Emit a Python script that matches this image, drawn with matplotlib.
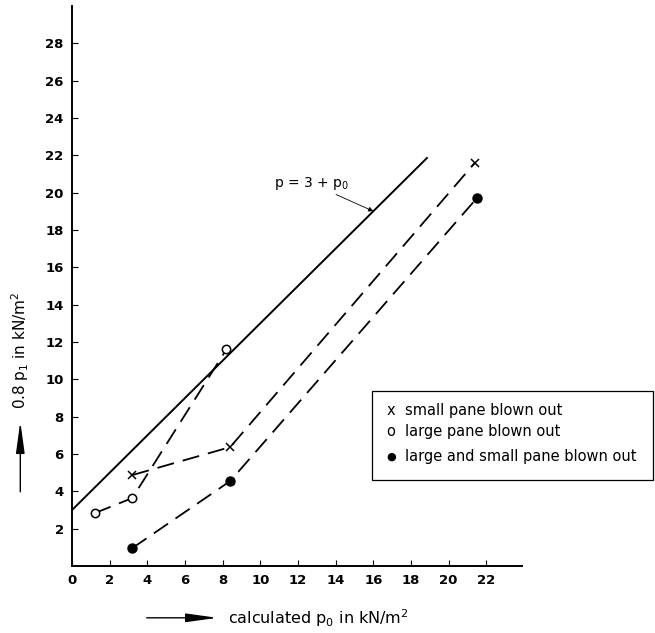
import matplotlib.pyplot as plt
from matplotlib.patches import Rectangle

small_x = [3.2, 8.4, 21.4]
small_y = [4.87, 6.37, 21.6]
large_x = [1.2, 3.2, 8.2]
large_y = [2.83, 3.64, 11.6]
both_x = [3.2, 8.4, 21.5]
both_y = [0.96, 4.55, 19.7]
ref_x = [0, 18.85]
ref_y = [3 + v for v in ref_x]

x_ticks = list(range(0, 23, 2))
y_ticks = list(range(2, 29, 2))

legend_marks = ['x', 'o', '\u25CF']
legend_labels = ['small pane blown out', 'large pane blown out',
                 'large and small pane blown out']

plt.rcParams['font.family'] = 'DejaVu Sans'
plt.rcParams['mathtext.fontset'] = 'dejavusans'

fig = plt.figure(figsize=(6.55, 6.33), dpi=100)
ax = fig.add_axes([0.110, 0.1058, 0.687, 0.885])

dash = (9.5, 5)
ax.plot(ref_x, ref_y, color='black', lw=1.4)
ax.plot(small_x, small_y, color='black', lw=1.3, dashes=dash,
        marker='x', ms=5.5, mew=1.1)
ax.plot(large_x, large_y, color='black', lw=1.3, dashes=dash,
        marker='o', ms=6, mfc='white', mew=1.1)
ax.plot(both_x, both_y, color='black', lw=1.3, dashes=dash,
        marker='o', ms=6.5, mfc='black')

ax.annotate(r'p = 3 + p$_0$', xy=(16.0, 19.0), xytext=(10.7, 20.5),
            fontsize=10, va='center', ha='left',
            arrowprops=dict(arrowstyle='-|>', color='black', lw=0.6,
                            mutation_scale=7, shrinkA=0, shrinkB=0))

ax.set_xlim(0, 23.9)
ax.set_ylim(0, 30)
ax.set_xticks(x_ticks)
ax.set_yticks(y_ticks)
ax.tick_params(direction='in', length=4, width=0.8, labelsize=9.5, pad=6)
for lab in ax.get_xticklabels() + ax.get_yticklabels():
    lab.set_fontweight('bold')
ax.spines['top'].set_visible(False)
ax.spines['right'].set_visible(False)
ax.spines['left'].set_linewidth(1.4)
ax.spines['bottom'].set_linewidth(1.4)

# legend box
fig.add_artist(Rectangle((0.568, 0.242), 0.429, 0.140, transform=fig.transFigure,
                         fc='white', ec='black', lw=0.9))
leg_y = [0.352, 0.318, 0.279]
for mk, lab, yy in zip(legend_marks, legend_labels, leg_y):
    fig.text(0.597, yy, mk, fontsize=8 if mk == '\u25CF' else 10.5,
             ha='center', va='center')
    fig.text(0.619, yy, lab, fontsize=10.5, ha='left', va='center')

# axis labels with arrows
arrow_style = '-|>,head_length=1.6,head_width=0.22'
fig.text(0.348, 0.024, r'calculated p$_0$ in kN/m$^2$', fontsize=11.5,
         ha='left', va='center')
ax.annotate('', xy=(0.332, 0.024), xytext=(0.224, 0.024),
            xycoords='figure fraction', textcoords='figure fraction',
            arrowprops=dict(arrowstyle=arrow_style, color='black', lw=1.0,
                            mutation_scale=12, shrinkA=0, shrinkB=0))

fig.text(0.031, 0.447, r'0.8 p$_1$ in kN/m$^2$', fontsize=11, rotation=90,
         ha='center', va='center')
ax.annotate('', xy=(0.031, 0.334), xytext=(0.031, 0.223),
            xycoords='figure fraction', textcoords='figure fraction',
            arrowprops=dict(arrowstyle=arrow_style, color='black', lw=1.0,
                            mutation_scale=12, shrinkA=0, shrinkB=0))

fig.savefig('out.png', dpi=100)
